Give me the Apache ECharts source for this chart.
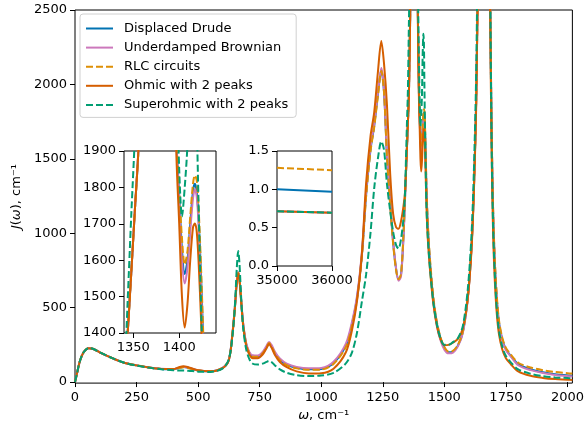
<!DOCTYPE html>
<html><head><meta charset="utf-8">
<script src="https://cdn.jsdelivr.net/npm/echarts@6/dist/echarts.min.js"></script>
<style>html,body{margin:0;padding:0;background:#fff}#c{width:587px;height:427px}</style>
</head><body><div id="c"></div>
<script>
// frequency grid (cm^-1)
const W = [0, 8, 20, 35, 55, 75, 100, 150, 200, 250,
 300, 350, 400, 420, 440, 460, 500, 550, 600, 625,
 640, 650, 657, 663, 668, 675, 683, 695, 708, 722,
 742, 762, 778, 788, 798, 812, 832, 860, 900, 950,
 1000, 1050, 1100, 1125, 1145, 1165, 1182, 1200, 1215, 1230,
 1244, 1255, 1267, 1280, 1292, 1304, 1314, 1324, 1334, 1340,
 1344, 1348, 1352, 1356, 1362, 1370, 1380, 1388, 1393, 1397,
 1400, 1403, 1406, 1409, 1412, 1415, 1417, 1419, 1421, 1424,
 1427, 1431, 1436, 1442, 1455, 1470, 1485, 1500, 1517, 1535,
 1555, 1575, 1595, 1610, 1620, 1630, 1645, 1660, 1675, 1686,
 1692, 1698, 1705, 1713, 1722, 1735, 1750, 1770, 1800, 1850,
 1900, 1950, 2000, 2020];

const drude = [0, 58, 142, 200, 228, 222, 200, 162, 130, 112,
 98, 88, 86, 94, 101, 96, 78, 72, 95, 150,
 334, 515, 675, 735, 693, 544, 389, 257, 195, 172,
 172, 195, 235, 260, 240, 195, 150, 118, 96, 86,
 88, 128, 245, 390, 560, 850, 1250, 1560, 1720, 1930,
 2097, 1950, 1520, 1200, 940, 760, 690, 720, 980, 1225,
 1400, 1570, 1745, 1925, 2550, 3600, 3800, 3100, 2400, 1930,
 1780, 1630, 1562, 1600, 1700, 1790, 1810, 1790, 1720, 1540,
 1320, 1120, 950, 800, 560, 390, 290, 230, 200, 205,
 245, 335, 560, 900, 1300, 1950, 4000, 8000, 5000, 2600,
 1700, 1150, 800, 560, 400, 290, 220, 175, 120, 86,
 66, 53, 45, 42];

const brownian = [0, 58, 142, 200, 228, 222, 200, 162, 130, 112,
 98, 89, 87, 95, 103, 97, 79, 73, 97, 152,
 338, 520, 680, 740, 698, 550, 395, 265, 203, 180,
 178, 202, 244, 270, 250, 204, 158, 124, 102, 92,
 95, 136, 258, 405, 575, 870, 1270, 1575, 1730, 1940,
 2110, 1960, 1530, 1210, 950, 765, 680, 710, 970, 1215,
 1400, 1570, 1745, 1925, 2550, 3600, 3800, 3100, 2400, 1920,
 1760, 1600, 1536, 1580, 1680, 1770, 1795, 1775, 1700, 1510,
 1290, 1100, 935, 785, 545, 375, 278, 218, 193, 198,
 240, 330, 555, 895, 1295, 1945, 4000, 8000, 5000, 2580,
 1680, 1130, 790, 555, 395, 285, 215, 172, 113, 80,
 61, 48, 40, 37];

const rlc = [0, 58, 142, 200, 228, 222, 200, 162, 130, 112,
 98, 88, 86, 93, 100, 95, 78, 72, 95, 150,
 334, 515, 675, 735, 693, 544, 388, 255, 193, 170,
 170, 193, 234, 262, 240, 193, 147, 114, 92, 82,
 84, 122, 235, 380, 550, 840, 1240, 1550, 1710, 1920,
 2090, 1945, 1510, 1190, 930, 750, 690, 725, 990, 1235,
 1400, 1570, 1745, 1925, 2550, 3600, 3800, 3100, 2420, 1940,
 1800, 1660, 1588, 1625, 1720, 1810, 1833, 1820, 1750, 1560,
 1340, 1140, 970, 820, 575, 400, 298, 236, 205, 210,
 250, 340, 565, 905, 1305, 1955, 4000, 8000, 5000, 2620,
 1720, 1170, 820, 580, 415, 300, 230, 185, 130, 98,
 80, 68, 60, 58];

const ohmic = [0, 58, 142, 200, 228, 222, 200, 162, 130, 112,
 98, 88, 87, 98, 107, 100, 79, 72, 94, 148,
 330, 510, 668, 728, 686, 535, 378, 245, 185, 160,
 160, 185, 228, 255, 232, 182, 135, 100, 72, 58,
 60, 90, 200, 350, 540, 860, 1330, 1650, 1810, 2080,
 2292, 2140, 1860, 1400, 1130, 1040, 1030, 1080, 1180, 1270,
 1400, 1570, 1745, 1925, 2550, 3600, 3800, 3100, 2350, 1885,
 1700, 1500, 1415, 1480, 1600, 1690, 1701, 1680, 1600, 1420,
 1200, 1020, 880, 750, 530, 375, 285, 248, 250, 265,
 290, 360, 560, 880, 1280, 1920, 4000, 8000, 5000, 2500,
 1550, 1000, 680, 460, 320, 220, 160, 120, 72, 42,
 28, 20, 16, 14];

const superohmic = [0, 58, 142, 200, 228, 222, 200, 162, 130, 110,
 97, 86, 80, 78, 78, 76, 70, 68, 92, 155,
 316, 531, 765, 880, 795, 562, 364, 222, 154, 123,
 118, 124, 136, 142, 135, 112, 85, 62, 46, 40,
 44, 62, 125, 200, 330, 540, 720, 1000, 1300, 1500,
 1617, 1560, 1330, 1150, 1010, 920, 897, 960, 1100, 1260,
 1490, 1730, 1960, 2400, 3000, 3700, 3900, 3200, 2600, 2150,
 1850, 1720, 1800, 1920, 2200, 2340, 2280, 2000, 1760, 1450,
 1200, 1030, 890, 760, 540, 385, 290, 250, 250, 268,
 295, 375, 620, 980, 1420, 2150, 4500, 8000, 5000, 2700,
 1600, 1050, 720, 490, 345, 240, 175, 132, 85, 56,
 40, 31, 27, 25];

// high-frequency inset
const W_TAIL = [35000, 35500, 36000];
const drudeTail = [1.00, 0.985, 0.97];
const brownianTail = [0.715, 0.705, 0.695];
const rlcTail = [1.28, 1.265, 1.25];
const ohmicTail = [0.715, 0.705, 0.695];
const superohmicTail = [0.715, 0.705, 0.695];

const NAMES = ['Displaced Drude', 'Underdamped Brownian', 'RLC circuits', 'Ohmic with 2 peaks', 'Superohmic with 2 peaks'];
const MAIN_TICKS_X = [0, 250, 500, 750, 1000, 1250, 1500, 1750, 2000];
const MAIN_TICKS_Y = [0, 500, 1000, 1500, 2000, 2500];
const IN1_TICKS_X = [1350, 1400];
const IN1_TICKS_Y = [1400, 1500, 1600, 1700, 1800, 1900];
const IN2_TICKS_X = [35000, 36000];
const IN2_TICKS_Y = [0, 0.5, 1.0, 1.5];

const COLORS = ['#0173B2', '#CC78BC', '#DE8F05', '#D55E00', '#029E73'];
const DASHED = [false, false, true, false, true];
const MAIN = [drude, brownian, rlc, ohmic, superohmic];
const TAIL = [drudeTail, brownianTail, rlcTail, ohmicTail, superohmicTail];

const FONT = 'DejaVu Sans';
function axis(gi, min, max, ticks, fmt, extra) {
  return Object.assign({
    type: 'value', gridIndex: gi, min: min, max: max,
    axisLine: {show: false},
    axisTick: {show: true, inside: false, length: 5, customValues: ticks, lineStyle: {color: '#000', width: 1}},
    axisLabel: {customValues: ticks, color: '#000', fontFamily: FONT, fontSize: 13, formatter: fmt || (v => String(v))},
    splitLine: {show: false}
  }, extra || {});
}
const richI = {i: {fontStyle: 'italic', fontFamily: FONT, fontSize: 13, color: '#000'}};

const series = [];
for (let s = 0; s < 5; s++) {
  const ls = {color: COLORS[s], width: 2, type: DASHED[s] ? [7, 3] : 'solid'};
  const mainData = W.map((w, k) => [w, MAIN[s][k]]);
  const common = {name: NAMES[s], type: 'line', showSymbol: false, symbol: 'none',
    lineStyle: ls, itemStyle: {color: COLORS[s]}, clip: true};
  series.push(Object.assign({}, common, {xAxisIndex: 0, yAxisIndex: 0, data: mainData, smooth: 0.3, z: 2}));
  series.push(Object.assign({}, common, {xAxisIndex: 1, yAxisIndex: 1, data: mainData, smooth: 0.3, z: 5}));
  series.push(Object.assign({}, common, {xAxisIndex: 2, yAxisIndex: 2,
    data: W_TAIL.map((w, k) => [w, TAIL[s][k]]), z: 5}));
}

const chart = echarts.init(document.getElementById('c'), null, {renderer: 'canvas'});
chart.setOption({
  animation: false,
  backgroundColor: '#fff',
  textStyle: {fontFamily: FONT},
  grid: [
    {left: 75, top: 10, width: 499, height: 377, show: true, borderColor: '#000', borderWidth: 1, backgroundColor: '#fff', z: 0},
    {left: 124, top: 151, width: 92, height: 182, show: true, borderColor: '#000', borderWidth: 1, backgroundColor: '#fff', z: 3},
    {left: 277, top: 151, width: 55, height: 115, show: true, borderColor: '#000', borderWidth: 1, backgroundColor: '#fff', z: 3}
  ],
  xAxis: [
    axis(0, 0, 2020, MAIN_TICKS_X, null, {name: '{i|ω}, cm⁻¹', nameLocation: 'middle', nameGap: 22,
      nameTextStyle: {fontFamily: FONT, fontSize: 13, color: '#000', rich: richI}}),
    axis(1, 1340, 1440, IN1_TICKS_X),
    axis(2, 35000, 36000, IN2_TICKS_X)
  ],
  yAxis: [
    axis(0, -7, 2500, MAIN_TICKS_Y, null, {name: '{i|J}({i|ω}), cm⁻¹', nameLocation: 'middle', nameGap: 50,
      nameTextStyle: {fontFamily: FONT, fontSize: 13, color: '#000', rich: richI}}),
    axis(1, 1400, 1900, IN1_TICKS_Y),
    axis(2, 0, 1.5, IN2_TICKS_Y, v => v.toFixed(1))
  ],
  legend: {
    data: NAMES, orient: 'vertical', left: 80, top: 14,
    itemWidth: 27, itemHeight: 14, itemGap: 6.1,
    padding: [8, 8, 6, 5],
    itemStyle: {opacity: 0},
    lineStyle: {width: 2},
    backgroundColor: 'rgba(255,255,255,0.85)', borderColor: '#d0d0d0', borderWidth: 1, borderRadius: 3,
    textStyle: {fontFamily: FONT, fontSize: 13, color: '#000', padding: [0, 0, 0, 6]},
    z: 10
  },
  series: series
});
</script>
</body></html>
